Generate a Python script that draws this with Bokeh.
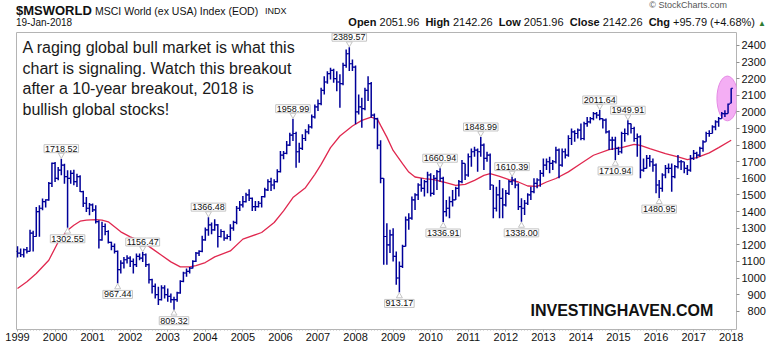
from bokeh.plotting import figure
from bokeh.layouts import column
from bokeh.models import Range1d, FixedTicker, Label, ColumnDataSource, Div
from bokeh.embed import file_html
from bokeh.resources import INLINE

# ---------------- data (monthly bars, month 0 = Jan 1999 ... month 228 = Jan 2018) -------------
open_ = [1160,1150,1140,1170,1160,1270,1250,1400,1420,1460,
         1470,1570,1690,1600,1650,1680,1610,1600,1630,1580,
         1610,1520,1450,1420,1440,1410,1340,1230,1310,1280,
         1215,1190,1160,1050,1090,1110,1120,1100,1080,1130,
         1120,1140,1080,990,950,900,870,940,900,890,
         870,870,910,980,1030,1040,1060,1100,1150,1160,
         1230,1290,1320,1290,1320,1250,1280,1240,1250,1300,
         1335,1420,1440,1460,1500,1480,1430,1430,1450,1490,
         1530,1580,1560,1580,1640,1740,1750,1800,1860,1870,
         1760,1780,1840,1880,1910,1970,2030,2050,2130,2180,
         2230,2250,2200,2180,2170,2280,2350,2290,2270,2000,
         2030,2020,2130,2170,1980,1960,1800,1600,1250,1200,
         1260,1130,1000,1070,1190,1350,1360,1470,1500,1560,
         1540,1580,1620,1510,1600,1640,1600,1400,1420,1460,
         1470,1540,1580,1690,1620,1730,1760,1770,1760,1800,
         1720,1740,1560,1420,1500,1480,1440,1510,1580,1590,
         1560,1430,1420,1450,1500,1520,1570,1590,1630,1680,
         1700,1690,1700,1770,1680,1760,1740,1840,1880,1870,
         1890,1840,1930,1940,1960,1990,1980,1960,1950,1880,
         1830,1830,1780,1760,1870,1870,1930,1900,1840,1850,
         1650,1660,1720,1700,1680,1560,1540,1620,1660,1660,
         1610,1670,1700,1700,1660,1650,1720,1750,1740,1780,
         1820,1870,1870,1910,1940,1960,1990,1990,2051.96]

high = [1191,1177,1177,1187,1290,1285,1428,1438,1478,1474,
        1578,1695,1699,1668,1718.52,1688,1648,1648,1652,1628,
        1618,1525,1488,1452,1448,1438,1348,1338,1328,1288,
        1218,1208,1165,1107,1127,1137,1131,1117,1147,1147,
        1156.47,1147,1087,995,967,947,957,957,937,907,
        887,917,987,1037,1057,1067,1107,1157,1167,1254,
        1304,1366.48,1334,1354,1325,1294,1285,1264,1324,1344,
        1434,1464,1494,1514,1534,1484,1464,1464,1494,1544,
        1594,1604,1594,1654,1765,1765,1825,1875,1958.99,1880,
        1815,1865,1895,1925,1985,2045,2075,2145,2215,2245,
        2266,2260,2245,2226,2296,2376,2389.57,2316,2280,2105,
        2085,2145,2215,2180,1990,1965,1830,1600,1330,1290,
        1300,1160,1100,1200,1370,1390,1490,1510,1570,1600,
        1590,1640,1630,1620,1650,1660.94,1610,1470,1490,1530,
        1550,1590,1710,1690,1750,1780,1790,1780,1848.99,1810,
        1760,1750,1560,1550,1590,1540,1530,1590,1610.39,1600,
        1570,1480,1470,1510,1550,1600,1600,1650,1720,1720,
        1730,1710,1790,1780,1780,1780,1860,1900,1890,1900,
        1930,1940,1970,1970,2000,2000,2011.64,1960,1960,1890,
        1850,1850,1790,1880,1900,1949.91,1930,1910,1870,1860,
        1720,1740,1740,1720,1690,1590,1630,1680,1690,1690,
        1680,1740,1710,1700,1680,1740,1770,1760,1790,1830,
        1880,1890,1920,1950,1970,2000,2010,2050,2142.26]

low = [1123,1127,1123,1147,1160,1160,1248,1248,1408,1424,
       1465,1548,1578,1588,1618,1568,1302.55,1568,1558,1548,
       1518,1428,1398,1378,1398,1328,1177,1225,1258,1208,
       1167,1147,967.44,1027,1057,1087,1067,1027,1067,1107,
       1097,1067,967,907,877,837,865,877,857,851,
       809.32,857,905,975,1007,1027,1057,1097,1133,1155,
       1225,1254,1264,1284,1183,1244,1224,1234,1224,1284,
       1324,1404,1424,1454,1464,1404,1404,1424,1424,1484,
       1524,1524,1534,1575,1635,1715,1745,1795,1825,1664,
       1694,1770,1825,1865,1900,1960,2005,2040,2105,2170,
       2195,2175,2125,2025,2160,2266,2246,2246,1925,1985,
       1905,2010,2065,1965,1900,1775,1570,1080,1080,1150,
       1100,960,913.17,1060,1190,1290,1350,1410,1470,1520,
       1490,1510,1490,1500,1530,1580,1336.91,1370,1360,1430,
       1470,1490,1570,1590,1610,1670,1730,1640,1730,1650,
       1700,1530,1360,1400,1360,1360,1430,1500,1560,1540,
       1410,1338.00,1380,1440,1470,1510,1540,1550,1610,1650,
       1630,1650,1690,1600,1670,1720,1730,1800,1820,1840,
       1830,1830,1910,1930,1950,1960,1950,1900,1870,1770,
       1770,1710.94,1740,1750,1820,1860,1870,1820,1730,1600,
       1640,1660,1670,1640,1510,1480.95,1520,1600,1630,1520,
       1600,1660,1650,1630,1620,1640,1710,1720,1730,1760,
       1820,1850,1870,1890,1910,1960,1970,1990,2051.96]

close = [1150,1140,1170,1160,1270,1250,1400,1420,1460,1470,
         1570,1690,1600,1650,1680,1610,1600,1630,1580,1610,
         1520,1450,1420,1440,1410,1340,1230,1310,1280,1215,
         1190,1160,1050,1090,1110,1120,1100,1080,1130,1120,
         1140,1080,990,950,900,870,940,900,890,870,
         870,910,980,1030,1040,1060,1100,1150,1160,1230,
         1290,1320,1290,1320,1250,1280,1240,1250,1300,1335,
         1420,1440,1460,1500,1480,1430,1430,1450,1490,1530,
         1580,1560,1580,1640,1740,1750,1800,1860,1870,1760,
         1780,1840,1880,1910,1970,2030,2050,2130,2180,2230,
         2250,2200,2180,2170,2280,2350,2290,2270,2000,2030,
         2020,2130,2170,1980,1960,1800,1600,1250,1200,1260,
         1130,1000,1070,1190,1350,1360,1470,1500,1560,1540,
         1580,1620,1510,1600,1640,1600,1400,1420,1460,1470,
         1540,1580,1690,1620,1730,1760,1770,1760,1800,1720,
         1740,1560,1420,1500,1480,1440,1510,1580,1590,1560,
         1430,1420,1450,1500,1520,1570,1590,1630,1680,1700,
         1690,1700,1770,1680,1760,1740,1840,1880,1870,1890,
         1840,1930,1940,1960,1990,1980,1960,1950,1880,1830,
         1830,1780,1760,1870,1870,1930,1900,1840,1850,1650,
         1660,1720,1700,1680,1560,1540,1620,1660,1660,1610,
         1670,1700,1700,1660,1650,1720,1750,1740,1780,1820,
         1870,1870,1910,1940,1960,1990,1990,2046,2142.26]

# moving average overlay, read at sample months
ma_month = [0, 3, 6, 10, 13, 16, 18, 20, 22, 25, 27, 29, 31, 33, 36, 40, 43, 46, 49, 52,
            55, 57, 60, 63, 68, 72, 78, 82, 85, 88, 92, 95, 97, 100, 103, 107, 110, 113,
            115, 116, 118, 120, 123, 125, 127, 130, 133, 136, 140, 143, 146, 149, 151, 154,
            157, 160, 163, 166, 169, 172, 176, 180, 184, 189, 193, 197, 199, 202, 207, 211,
            214, 217, 221, 224, 228]
ma_value = [937, 977, 1027, 1107, 1217, 1288, 1318, 1342, 1348, 1352, 1348, 1338, 1308, 1278,
            1248, 1217, 1177, 1137, 1097, 1067, 1067, 1075, 1093, 1127, 1163, 1234, 1274, 1334,
            1404, 1484, 1544, 1624, 1684, 1785, 1855, 1915, 1949, 1969, 1955, 1919, 1848, 1768,
            1688, 1638, 1608, 1598, 1592, 1578, 1558, 1564, 1588, 1618, 1628, 1612, 1592, 1578,
            1554, 1552, 1578, 1599, 1639, 1689, 1739, 1773, 1785, 1805, 1799, 1779, 1749, 1729,
            1713, 1725, 1753, 1785, 1829]

# annotated extremes
note_month = [14, 16, 32, 40, 50, 61, 88, 106, 122, 135, 136, 148, 158, 161, 186, 191, 195, 205]
note_value = [1718.52, 1302.55, 967.44, 1156.47, 809.32, 1366.48, 1958.99, 2389.57, 913.17,
              1660.94, 1336.91, 1848.99, 1610.39, 1338.00, 2011.64, 1710.94, 1949.91, 1480.95]
note_side = ["high", "low", "low", "high", "low", "high", "high", "high", "low",
             "high", "low", "high", "high", "low", "high", "low", "high", "low"]

year_labels = [str(y) for y in range(1999, 2019)]
year_months = [12 * k for k in range(len(year_labels))]
price_ticks = list(range(800, 2500, 100))

# header quote
quote = [("Open", "2051.96"), ("High", "2142.26"), ("Low", "2051.96"),
         ("Close", "2142.26"), ("Chg", "+95.79 (+4.68%)")]

# highlight ellipse around the latest bars (month, price, width in months, height in price)
highlight = dict(month=226.8, price=2081, w=6.7, h=270)

# ---------------- styling ------------------------------------------------------------------
BAR = "#000099"
MA = "#e0284f"
FONT = "Liberation Sans"
HEAD_H = 30          # header strip height
FRAME_BOTTOM = 329   # page y of the chart window bottom

# ---------------- header strip (HTML text) --------------------------------------------------


def span(text, left, baseline, size, bold=False, color="#111111", right=None):
    top = baseline - 0.8465 * size
    pos = f"left:{left}px;" if right is None else f"right:{right}px;"
    return (f'<span style="position:absolute;{pos}top:{top:.1f}px;font-size:{size}px;'
            f'line-height:{size}px;white-space:nowrap;color:{color};'
            f'font-weight:{"bold" if bold else "normal"}">{text}</span>')


parts = [span("$MSWORLD", 16, 15, 13, bold=True),
         span("MSCI World (ex USA) Index (EOD)", 95, 15, 10.5),
         span("INDX", 265, 15, 9),
         span("19-Jan-2018", 16, 26, 10),
         span("&copy; StockCharts.com", 0, 9, 9, color="#555555", right=780 - 727)]
quote_html = "&nbsp;&nbsp;".join(f"<b>{k}</b> {v}" for k, v in quote)
quote_html += ' <span style="color:#2e7d32;font-size:8px">&#9650;</span>'
parts.append(span(quote_html, 0, 26, 11, right=780 - 766))
head = Div(text=('<div style="position:relative;width:780px;height:30px;overflow:hidden;'
                 f'font-family:\'{FONT}\',Arial,sans-serif;">' + "".join(parts) + "</div>"),
           width=780, height=HEAD_H, margin=0)

# ---------------- main chart -----------------------------------------------------------------
p = figure(width=780, height=345 - HEAD_H, output_backend="svg", toolbar_location=None,
           x_range=Range1d(-0.32, 229.7), y_range=Range1d(690, 2478),
           y_axis_location="right",
           min_border_left=16, min_border_right=44, min_border_top=2, min_border_bottom=16,
           background_fill_color="white", border_fill_color="white",
           outline_line_color="#b4b4b4", margin=0)
p.grid.visible = False

months = list(range(len(close)))
src = ColumnDataSource(dict(
    x=months, xo=[m - 0.6 for m in months], xc=[m + 0.6 for m in months],
    o=open_, h=high, l=low, c=close))

p.ellipse(x=[highlight["month"]], y=[highlight["price"]], width=[highlight["w"]],
          height=[highlight["h"]], fill_color="#f4aef4", line_color="#e48ae4", line_width=1)

p.line(ma_month, ma_value, line_color=MA, line_width=1.3)

p.segment(x0="x", y0="l", x1="x", y1="h", source=src, line_color=BAR, line_width=1.5)
p.segment(x0="xo", y0="o", x1="x", y1="o", source=src, line_color=BAR, line_width=1.2)
p.segment(x0="x", y0="c", x1="xc", y1="c", source=src, line_color=BAR, line_width=1.2)

xa = p.xaxis[0]
xa.ticker = FixedTicker(ticks=year_months, minor_ticks=months)
xa.major_label_overrides = {m: lab for m, lab in zip(year_months, year_labels)}
xa.axis_line_color = None
xa.major_tick_line_color = "#a0a0a0"
xa.minor_tick_line_color = "#b8b8b8"
xa.major_tick_in = 0
xa.major_tick_out = 2
xa.minor_tick_in = 0
xa.minor_tick_out = 1
xa.major_label_standoff = 1
xa.major_label_text_font = FONT
xa.major_label_text_font_size = "11px"
xa.major_label_text_color = "#111111"

ya = p.yaxis[0]
ya.ticker = FixedTicker(ticks=price_ticks, minor_ticks=[])
ya.major_label_overrides = {800: "\u2007800", 900: "\u2007900"}
ya.axis_line_color = None
ya.major_tick_line_color = "#909090"
ya.major_tick_in = 0
ya.major_tick_out = 3
ya.minor_tick_out = 0
ya.major_label_standoff = 2
ya.major_label_text_font = FONT
ya.major_label_text_font_size = "11px"
ya.major_label_text_color = "#111111"

for m, v, side in zip(note_month, note_value, note_side):
    up = side == "high"
    p.add_layout(Label(x=m, y=v, text=f"{v:.2f}", text_align="center",
                       text_baseline="bottom" if up else "top",
                       y_offset=6 if up else -7, text_font=FONT, text_font_size="9px",
                       text_color="#111111", background_fill_color="white",
                       border_line_color="#c4c4c4", padding=1))
    p.scatter([m], [v + 22 if up else v - 22],
              marker="inverted_triangle" if up else "triangle", size=6,
              fill_color="white", line_color="#c4c4c4")


def txt(text, cx, cy, size, bold=False, color="#111111", align="left"):
    p.add_layout(Label(x=cx - 16, y=FRAME_BOTTOM - cy, x_units="screen", y_units="screen",
                       text=text, text_font=FONT, text_font_size=size,
                       text_font_style="bold" if bold else "normal",
                       text_color=color, text_align=align, text_baseline="alphabetic"))


lines = ["A raging global bull market is what this",
         "chart is signaling. Watch this breakout",
         "after a 10-year breakout, 2018 is",
         "bullish global stocks!"]
for k, t in enumerate(lines):
    txt(t, 22, 47 + 20.5 * k, "16px", color="#1a1a1a")

txt("INVESTINGHAVEN.COM", 530, 310, "16px", bold=True, color="#111111")

page = column(head, p, spacing=0, margin=0)
open("out.html", "w").write(file_html(page, INLINE))
